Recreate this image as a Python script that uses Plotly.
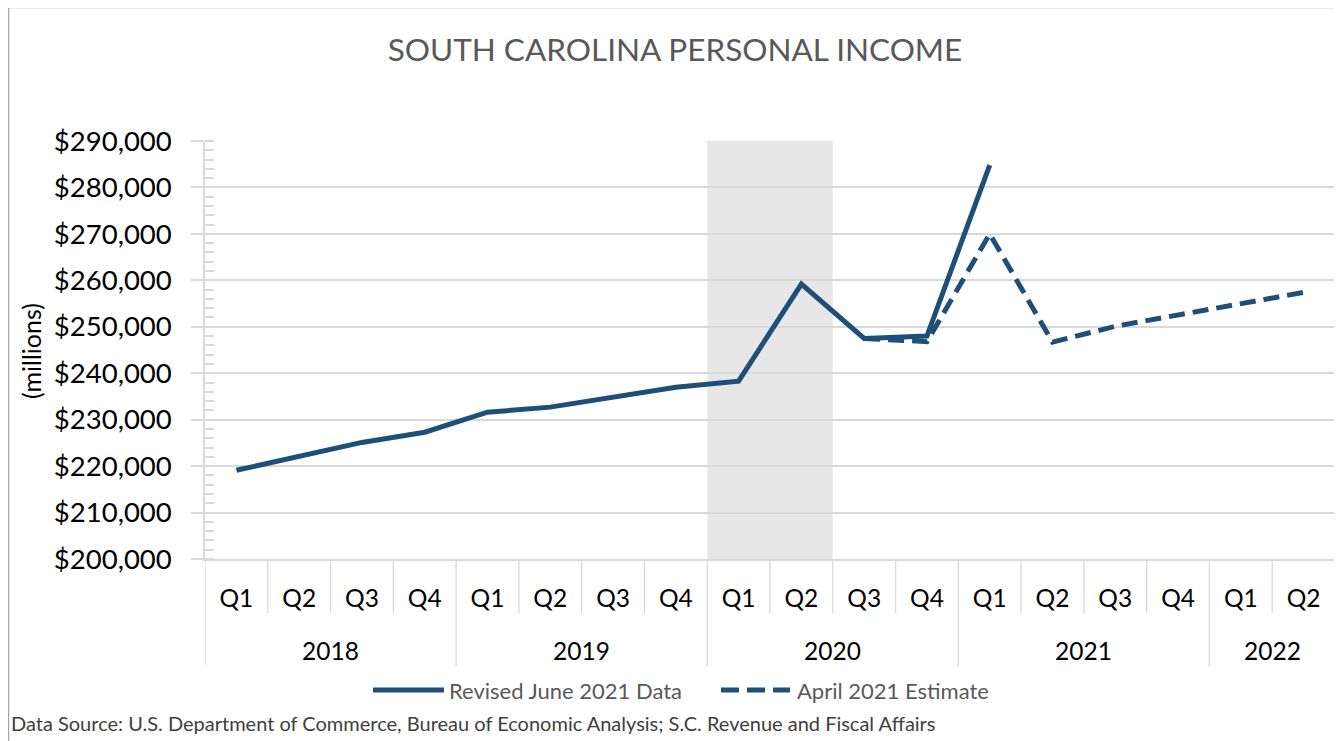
import plotly.graph_objects as go

# ---------------- data ----------------
years = ["2018", "2019", "2020", "2021", "2022"]
quarters_per_year = [4, 4, 4, 4, 2]
categories = []
quarter_labels = []
for yr, n in zip(years, quarters_per_year):
    for q in range(1, n + 1):
        categories.append(f"{yr} Q{q}")
        quarter_labels.append(f"Q{q}")

revised_x = categories[:13]
revised_values = [219100, 222100, 225100, 227300, 231600, 232700, 234800, 237000,
                  238300, 259200, 247500, 248000, 284800]

estimate_x = categories[10:]
estimate_values = [247500, 246800, 270000, 246700, 250100, 252600, 255100, 257400]

recession = ["2020 Q1", "2020 Q2"]

series_names = ["Revised June 2021 Data", "April 2021 Estimate"]
title_text = "SOUTH CAROLINA PERSONAL INCOME"
source_text = ("Data Source: U.S. Department of Commerce, Bureau of Economic Analysis; "
               "S.C. Revenue and Fiscal Affairs")

# ---------------- layout constants ----------------
OFF = 8                      # page body margin
W, H = 1342 - OFF, 741 - OFF
L = 205 - OFF
T = 141 - OFF
PR = 1335 - OFF              # plot right edge (figure px)
PB = 559 - OFF               # plot bottom edge (figure px)
R = W - PR
B = H - PB
PW = PR - L
PH = PB - T
FONT = "Lato"
LINE_COLOR = "#1F4E79"
GRID = "#D9D9D9"


def px_x(page_px):
    return (page_px - OFF - L) / PW


def px_y(page_py):
    return (PB - (page_py - OFF)) / PH


fig = go.Figure()
fig.add_trace(go.Scatter(x=revised_x, y=revised_values, mode="lines", name=series_names[0],
                         line=dict(color=LINE_COLOR, width=5), showlegend=False))
fig.add_trace(go.Scatter(x=estimate_x, y=estimate_values, mode="lines", name=series_names[1],
                         line=dict(color=LINE_COLOR, width=5, dash="16px,8px"), showlegend=False))

shapes = []
# recession shading
i0 = categories.index(recession[0])
i1 = categories.index(recession[-1])
shapes.append(dict(type="rect", xref="x", yref="paper", x0=i0 - 0.5, x1=i1 + 0.5, y0=0, y1=1,
                   fillcolor="#E7E7E7", line=dict(width=0), layer="below"))

# quarter separators and year separators
idx = 0
year_bounds = [-0.5]
for n in quarters_per_year:
    idx += n
    year_bounds.append(idx - 0.5)
for k in range(len(categories) + 1):
    pos = k - 0.5
    long_line = pos in year_bounds
    shapes.append(dict(type="line", xref="x", yref="paper", x0=pos, x1=pos, y0=0,
                       y1=px_y(666) if long_line else px_y(613),
                       line=dict(color=GRID, width=1.3)))

annotations = []
# year labels
start = 0
for yr, n in zip(years, quarters_per_year):
    annotations.append(dict(x=start + (n - 1) / 2, xref="x", y=px_y(650), yref="paper",
                            text=yr, showarrow=False, font=dict(family=FONT, size=24.5, color="#000000"),
                            xanchor="center", yanchor="middle"))
    start += n

# y-axis title
annotations.append(dict(x=px_x(31), y=px_y(351), xref="paper", yref="paper", text="(millions)",
                        textangle=-90, showarrow=False, font=dict(family=FONT, size=25, color="#000000"),
                        xanchor="center", yanchor="middle"))

# legend (drawn manually)
leg_y = px_y(690)
shapes.append(dict(type="line", xref="paper", yref="paper", x0=px_x(373), x1=px_x(444), y0=leg_y, y1=leg_y,
                   line=dict(color=LINE_COLOR, width=5)))
annotations.append(dict(x=px_x(447), y=leg_y, xref="paper", yref="paper", text=series_names[0],
                        showarrow=False, xanchor="left", yanchor="middle",
                        font=dict(family=FONT, size=22, color="#595959")))
shapes.append(dict(type="line", xref="paper", yref="paper", x0=px_x(721), x1=px_x(790), y0=leg_y, y1=leg_y,
                   line=dict(color=LINE_COLOR, width=5, dash="18px,8px")))
annotations.append(dict(x=px_x(795), y=leg_y, xref="paper", yref="paper", text=series_names[1],
                        showarrow=False, xanchor="left", yanchor="middle",
                        font=dict(family=FONT, size=22, color="#595959")))

# source
annotations.append(dict(x=px_x(9), y=px_y(723), xref="paper", yref="paper", text=source_text,
                        showarrow=False, xanchor="left", yanchor="middle",
                        font=dict(family=FONT, size=20, color="#404040")))

# outer border
shapes.append(dict(type="rect", xref="paper", yref="paper", x0=px_x(8.5), x1=px_x(1341),
                   y0=px_y(760), y1=px_y(7.5), line=dict(color="#A6A6A6", width=1.5)))

fig.update_layout(
    width=W, height=H,
    margin=dict(l=L, r=R, t=T, b=B),
    paper_bgcolor="white", plot_bgcolor="white",
    title=dict(text=title_text, x=(675 - OFF) / W, xanchor="center", y=1 - (50 - OFF) / H, yanchor="middle",
               font=dict(family=FONT, size=31.5, color="#595959")),
    shapes=shapes, annotations=annotations,
    showlegend=False,
)
fig.update_xaxes(
    type="category", categoryorder="array", categoryarray=categories,
    range=[-0.5, len(categories) - 0.5],
    tickvals=categories, ticktext=quarter_labels,
    tickfont=dict(family=FONT, size=24.5, color="#000000"),
    ticks="", showgrid=False, showline=True, linecolor=GRID, linewidth=1.5,
    ticklabelstandoff=17, zeroline=False,
)
fig.update_yaxes(
    range=[200000, 290000], dtick=10000, tickprefix="$", tickformat=",d",
    tickfont=dict(family=FONT, size=27.5, color="#000000"),
    showgrid=True, gridcolor=GRID, gridwidth=1.5,
    showline=True, linecolor=GRID, linewidth=1.5,
    ticks="outside", ticklen=12, tickcolor=GRID, tickwidth=1.5,
    minor=dict(dtick=2000, ticks="inside", ticklen=9, tickcolor=GRID, showgrid=False),
    ticklabelstandoff=14, zeroline=False,
)

fig.write_html("out.html")
